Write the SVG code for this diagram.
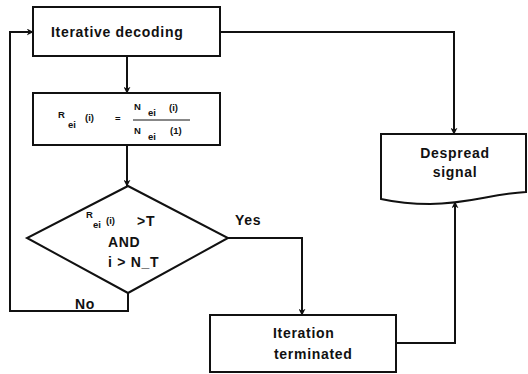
<svg xmlns="http://www.w3.org/2000/svg" width="528" height="374" viewBox="0 0 528 374">
<style>
.box{fill:#fff;stroke:#111;stroke-width:2}
.ln{fill:none;stroke:#111;stroke-width:2}
.t{font-family:"Liberation Sans",Arial,sans-serif;font-weight:bold;font-size:14px;letter-spacing:0.7px;fill:#111}
.s{font-family:"Liberation Sans",Arial,sans-serif;font-weight:bold;font-size:9.5px;fill:#111}
</style>
<defs>
<marker id="ah" viewBox="0 0 10 10" refX="9" refY="5" markerWidth="7" markerHeight="7" orient="auto" markerUnits="userSpaceOnUse">
<path d="M0,0 L10,5 L0,10 L3,5 Z" fill="#111"/>
</marker>
</defs>
<rect width="528" height="374" fill="#fff"/>
<g id="connectors">
<path class="ln" d="M127,56 V93" marker-end="url(#ah)"/>
<path class="ln" d="M127,145 V186" marker-end="url(#ah)"/>
<path class="ln" d="M220,32 H454 V134" marker-end="url(#ah)"/>
<path class="ln" d="M228,238 H302 V315" marker-end="url(#ah)"/>
<path class="ln" d="M128,293 V311 H10 V32 H33" marker-end="url(#ah)"/>
<path class="ln" d="M396,343 H455 V202" marker-end="url(#ah)"/>
<text class="t" x="235" y="225" font-size="13">Yes</text>
<text class="t" x="75" y="309" font-size="13">No</text>
</g>
<g id="iterative-decoding">
<rect class="box" x="33" y="7" width="187" height="49"/>
<text class="t" x="51" y="37">Iterative decoding</text>
</g>
<g id="ratio">
<rect class="box" x="33" y="93" width="187" height="52"/>
<text class="s" x="58" y="118" font-size="8">R</text>
<text class="s" x="68" y="128">ei</text>
<text class="s" x="85" y="121">(i)</text>
<text class="s" x="115" y="122">=</text>
<line x1="133" y1="120" x2="190" y2="120" stroke="#111" stroke-width="1"/>
<text class="s" x="134" y="110">N</text>
<text class="s" x="148" y="116">ei</text>
<text class="s" x="169" y="111">(i)</text>
<text class="s" x="134" y="134">N</text>
<text class="s" x="148" y="140">ei</text>
<text class="s" x="170" y="134">(1)</text>
</g>
<g id="decision">
<polygon class="box" points="128,186 228,238 128,293 27,238"/>
<text class="s" x="86" y="218" font-size="8">R</text>
<text class="s" x="93" y="228">ei</text>
<text class="s" x="106" y="224" font-size="10.5">(i)</text>
<text class="t" x="137" y="226" font-size="12.5" letter-spacing="1.5">&gt;T</text>
<text class="t" x="108" y="247" font-size="12.5">AND</text>
<text class="t" x="108" y="267" font-size="12.5">i &gt; N_T</text>
</g>
<g id="iteration-terminated">
<rect class="box" x="210" y="315" width="186" height="57"/>
<text class="t" x="273" y="338">Iteration</text>
<text class="t" x="274" y="359">terminated</text>
</g>
<g id="despread-signal">
<path class="box" d="M381,134 H526 V192 C490,194 470,204 430,204 C405,204 390,201 381,199 Z"/>
<text class="t" x="455" y="158" text-anchor="middle">Despread</text>
<text class="t" x="455" y="177" text-anchor="middle">signal</text>
</g>
</svg>
